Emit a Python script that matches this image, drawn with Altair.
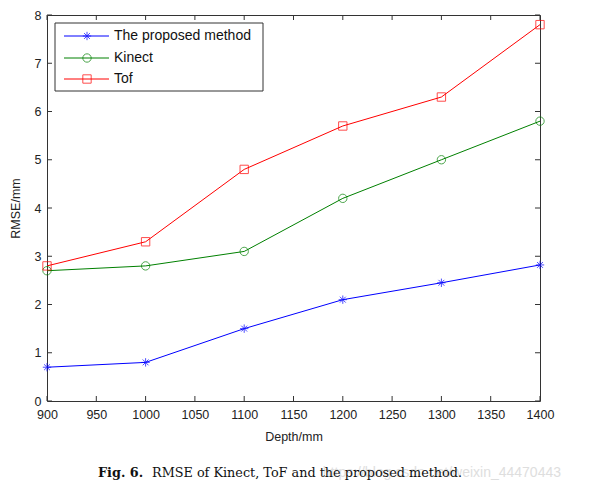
import altair as alt
import pandas as pd

depth = [900, 1000, 1100, 1200, 1300, 1400]
proposed = [0.7, 0.8, 1.5, 2.1, 2.45, 2.82]
kinect = [2.7, 2.8, 3.1, 4.2, 5.0, 5.8]
tof = [2.8, 3.3, 4.8, 5.7, 6.3, 7.8]
series_names = ["The proposed method", "Kinect", "Tof"]
series_colors = ["#0000ff", "#008000", "#ff0000"]
x_ticks = list(range(900, 1401, 50))
y_ticks = list(range(0, 9))

STAR = "M-1,0H1M0,-1V1M-0.7,-0.7L0.7,0.7M-0.7,0.7L0.7,-0.7"
SQUARE = "M-1,-1H1V1H-1Z"
shapes = [STAR, "circle", SQUARE]

rows = []
for name, vals in zip(series_names, [proposed, kinect, tof]):
    for d, v in zip(depth, vals):
        rows.append({"Depth": d, "RMSE": v, "series": name})
df = pd.DataFrame(rows)

W, H = 493, 386
FONT = "Liberation Sans"

xs = alt.Scale(domain=[900, 1400], nice=False)
ys = alt.Scale(domain=[0, 8], nice=False)
cs = alt.Scale(domain=series_names, range=series_colors)
ss = alt.Scale(domain=series_names, range=shapes)

base = alt.Chart(df)
lines = base.mark_line(strokeWidth=1).encode(
    x=alt.X("Depth:Q", scale=xs,
            axis=alt.Axis(values=x_ticks, format="d", title="Depth/mm", grid=False, domain=False,
                          ticks=False, labelPadding=7, titlePadding=10, labelFontSize=12.5,
                          labelFlush=False, labelOverlap=False,
                          titleFontSize=12.5, titleFontWeight="normal", labelFont=FONT,
                          titleFont=FONT, labelColor="#222", titleColor="#222")),
    y=alt.Y("RMSE:Q", scale=ys,
            axis=alt.Axis(values=y_ticks, title="RMSE/mm", grid=False, domain=False,
                          ticks=False, labelPadding=6, titlePadding=12, labelFontSize=12.5,
                          labelFlush=False,
                          titleFontSize=12.5, titleFontWeight="normal", labelFont=FONT,
                          titleFont=FONT, labelColor="#222", titleColor="#222")),
    color=alt.Color("series:N", scale=cs, legend=None),
)
points = base.mark_point(filled=False, strokeWidth=1, size=70).encode(
    x=alt.X("Depth:Q", scale=xs),
    y=alt.Y("RMSE:Q", scale=ys),
    color=alt.Color("series:N", scale=cs, legend=None),
    shape=alt.Shape("series:N", scale=ss, legend=None),
)

xt = pd.DataFrame({"t": x_ticks})
yt = pd.DataFrame({"t": y_ticks})
tick_layers = [
    alt.Chart(xt).mark_rule(color="#333", strokeWidth=1).encode(
        x=alt.X("t:Q", scale=xs), y=alt.value(H), y2=alt.value(H - 5)),
    alt.Chart(xt).mark_rule(color="#333", strokeWidth=1).encode(
        x=alt.X("t:Q", scale=xs), y=alt.value(0), y2=alt.value(5)),
    alt.Chart(yt).mark_rule(color="#333", strokeWidth=1).encode(
        y=alt.Y("t:Q", scale=ys), x=alt.value(0), x2=alt.value(5)),
    alt.Chart(yt).mark_rule(color="#333", strokeWidth=1).encode(
        y=alt.Y("t:Q", scale=ys), x=alt.value(W), x2=alt.value(W - 5)),
]

one = pd.DataFrame({"a": [0]})
legend_layers = [
    alt.Chart(one).mark_rect(fill="white", stroke="#333", strokeWidth=1).encode(
        x=alt.value(8), x2=alt.value(216), y=alt.value(8), y2=alt.value(76))
]
leg_y = [21, 43, 64]
for name, col, shp, ly in zip(series_names, series_colors, shapes, leg_y):
    legend_layers.append(alt.Chart(one).mark_rule(color=col, strokeWidth=1).encode(
        x=alt.value(17), x2=alt.value(62), y=alt.value(ly)))
    legend_layers.append(alt.Chart(one).mark_point(
        color=col, shape=shp, filled=False, size=70, strokeWidth=1).encode(
        x=alt.value(40), y=alt.value(ly)))
    legend_layers.append(alt.Chart(one).mark_text(
        text=name, align="left", baseline="middle", font=FONT, fontSize=14,
        color="#111").encode(x=alt.value(67), y=alt.value(ly)))

cap_y = 458
caption_layers = [
    alt.Chart(one).mark_text(
        text="https://blog.csdn.net/weixin_44470443", align="right", baseline="middle",
        font=FONT, fontSize=14, color="#dedede").encode(x=alt.value(514), y=alt.value(cap_y)),
    alt.Chart(one).mark_text(
        text="Fig. 6.", align="left", baseline="middle", font="DejaVu Serif",
        fontSize=12.8, fontWeight="bold", color="#111").encode(x=alt.value(51), y=alt.value(cap_y)),
    alt.Chart(one).mark_text(
        text="RMSE of Kinect, ToF and the proposed method.", align="left", baseline="middle",
        font="DejaVu Serif", fontSize=12.8, color="#111").encode(x=alt.value(105), y=alt.value(cap_y)),
]

chart = alt.layer(lines, points, *tick_layers, *legend_layers, *caption_layers).properties(
    width=W, height=H,
    autosize=alt.AutoSizeParams(type="none"),
    padding={"left": 39, "top": 7, "right": 53, "bottom": 84},
    background="white",
).configure_view(stroke="#333", strokeWidth=1)

chart.save("out.html", embed_options={"renderer": "svg", "actions": False})
